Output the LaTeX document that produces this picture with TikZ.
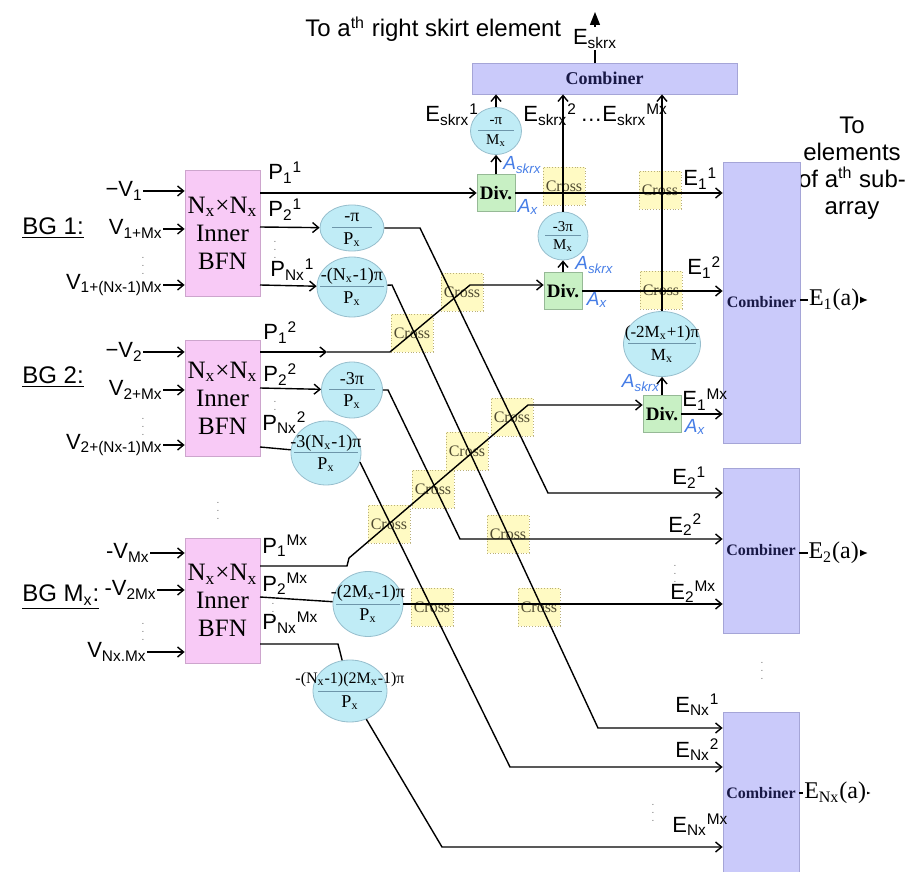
\documentclass[tikz,border=0pt]{standalone}
\usepackage{fontspec}
\setmainfont{Liberation Sans}
\newfontfamily\tnr{Liberation Serif}
\usetikzlibrary{arrows.meta,shapes.geometric}

\definecolor{bfnfill}{RGB}{248,202,246}
\definecolor{bfnline}{RGB}{205,165,205}
\definecolor{phfill}{RGB}{192,236,246}
\definecolor{phline}{RGB}{150,190,205}
\definecolor{phrule}{RGB}{110,150,170}
\definecolor{combfill}{RGB}{202,202,250}
\definecolor{combline}{RGB}{165,165,215}
\definecolor{combtext}{RGB}{25,25,70}
\definecolor{divfill}{RGB}{200,240,196}
\definecolor{divline}{RGB}{150,185,150}
\definecolor{crfill}{RGB}{255,250,195}
\definecolor{crline}{RGB}{185,175,120}
\definecolor{crtext}{RGB}{80,75,50}
\definecolor{ablue}{RGB}{70,125,230}

\begin{document}
\begin{tikzpicture}[x=0.5pt, y=-0.5pt,
    wire/.style={line width=0.7pt},
    ar/.style={wire, -{Straight Barb[length=3pt,width=5pt]}},
    lbl/.style={inner sep=0pt, font=\fontsize{11}{13}\selectfont},
    bfn/.style={draw=bfnline, fill=bfnfill, minimum width=37.5pt, align=center, inner sep=0pt, font=\tnr\fontsize{12.5}{14}\selectfont},
    comb/.style={draw=combline, fill=combfill, inner sep=0pt, text=combtext, font=\tnr\bfseries\fontsize{8}{9}\selectfont},
    divbox/.style={draw=divline, fill=divfill, minimum width=19pt, minimum height=18.5pt, inner sep=0pt, font=\tnr\bfseries\fontsize{9.5}{10}\selectfont},
    crossbox/.style={draw=crline, densely dotted, fill=crfill, minimum width=21pt, minimum height=19pt, inner sep=0pt, text=crtext, font=\tnr\fontsize{8}{9}\selectfont},
    phase/.style n args={3}{ellipse, draw=phline, fill=phfill, inner sep=0pt, minimum width=#1, minimum height=#2,
        path picture={\draw[phrule, line width=0.5pt] ([xshift=-#3]path picture bounding box.center) -- ([xshift=#3]path picture bounding box.center);}},
    num/.style={inner sep=0pt, yshift=5.5pt, font=\tnr\fontsize{9}{10}\selectfont},
    den/.style={inner sep=0pt, yshift=-5.8pt, font=\tnr\fontsize{9}{10}\selectfont},
    smallfr/.style={font=\tnr\fontsize{7.5}{8.5}\selectfont},
    blu/.style={inner sep=0pt, text=ablue, font=\itshape\fontsize{9.5}{11}\selectfont},
    dots/.style={inner sep=0pt, text=black!55, font=\tiny},
]
    \useasboundingbox (0,0) rectangle (907,872);

    % 标题文字
    \node[lbl, anchor=base west, font=\fontsize{12}{14}\selectfont] (ttl) at (305,37) {To a\textsuperscript{th} right skirt element};
    \node[align=center, inner sep=0pt, font=\fontsize{12}{13.5}\selectfont] (tosub) at (852,168) {To\\elements\\of a\textsuperscript{th} sub-\\array};

    % Cross 方块（先画，线压在上面）
    \foreach \n/\x/\y in {a/564/186, b/660/190, c/661/290, d/462/292, e/412/333, f/512/417,
                          g/467/451, h/433/489, i/389/524, j/508/534, k/432/607, l/539/607}
        \node[crossbox] (cr\n) at (\x,\y) {Cross};

    % 合成器
    \node[comb, minimum width=132.5pt, minimum height=15.5pt, font=\tnr\bfseries\fontsize{9}{10}\selectfont] (combt) at (604.5,78.5) {Combiner};
    \node[comb, minimum width=38.5pt, minimum height=140.5pt] (comb1) at (761.5,302.5) {Combiner};
    \node[comb, minimum width=38pt, minimum height=82.5pt] (comb2) at (761,550.5) {Combiner};
    \node[comb, minimum width=38pt, minimum height=81pt] (comb3) at (761,793) {Combiner};

    % 内部 BFN
    \node[bfn, minimum height=63pt] (bfn1) at (222.5,233) {N\textsubscript{x}×N\textsubscript{x}\\Inner\\BFN};
    \node[bfn, minimum height=58pt] (bfn2) at (222.5,398) {N\textsubscript{x}×N\textsubscript{x}\\Inner\\BFN};
    \node[bfn, minimum height=62.5pt] (bfn3) at (222.5,600.5) {N\textsubscript{x}×N\textsubscript{x}\\Inner\\BFN};

    % 分组标签
    \node[lbl, anchor=west, font=\fontsize{12}{14}\selectfont] (bg1) at (22,228) {\underline{BG 1:}};
    \node[lbl, anchor=west, font=\fontsize{12}{14}\selectfont] (bg2) at (22,377) {\underline{BG 2:}};
    \node[lbl, anchor=west, font=\fontsize{12}{14}\selectfont] (bgm) at (22,597) {\underline{BG M\textsubscript{x}:}};

    % 输入 V
    \node[lbl, anchor=east] (v11) at (143,191) {−V\textsubscript{1}};
    \node[lbl, anchor=east] (v12) at (163,229) {V\textsubscript{1+Mx}};
    \node[lbl, anchor=east] (v1n) at (163,285) {V\textsubscript{1+(Nx-1)Mx}};
    \node[lbl, anchor=east] (v21) at (143,352) {−V\textsubscript{2}};
    \node[lbl, anchor=east] (v22) at (163,390) {V\textsubscript{2+Mx}};
    \node[lbl, anchor=east] (v2n) at (163,445) {V\textsubscript{2+(Nx-1)Mx}};
    \node[lbl, anchor=east] (vm1) at (150,553) {-V\textsubscript{Mx}};
    \node[lbl, anchor=east] (vm2) at (157,590) {-V\textsubscript{2Mx}};
    \node[lbl, anchor=east] (vmn) at (147,652) {V\textsubscript{Nx.Mx}};
    \foreach \v/\b in {v11/bfn1, v12/bfn1, v1n/bfn1, v21/bfn2, v22/bfn2, v2n/bfn2, vm1/bfn3, vm2/bfn3, vmn/bfn3}
        \draw[ar] (\v) -- (\v -| \b.west);

    % 省略号
    \node[dots] (d1) at (143,260) {$\vdots$};
    \node[dots] (d2) at (143,421) {$\vdots$};
    \node[dots] (d3) at (143,626) {$\vdots$};
    \node[dots] (d4) at (275,244) {$\vdots$};
    \node[dots] (d5) at (275,404) {$\vdots$};
    \node[dots] (d6) at (273,606) {$\vdots$};
    \node[dots] (d7) at (218,505) {$\vdots$};
    \node[dots] (d8) at (762,665) {$\vdots$};
    \node[dots] (d9) at (675,568) {$\vdots$};
    \node[dots] (d10) at (653,807) {$\vdots$};

    % 输出 P 标签
    \node[lbl, anchor=base west] (lp11) at (268,180) {P\textsubscript{1}\textsuperscript{1}};
    \node[lbl, anchor=base west] (lp21) at (268,217) {P\textsubscript{2}\textsuperscript{1}};
    \node[lbl, anchor=base west] (lpn1) at (270,277) {P\textsubscript{Nx}\textsuperscript{1}};
    \node[lbl, anchor=base west] (lp12) at (263,340) {P\textsubscript{1}\textsuperscript{2}};
    \node[lbl, anchor=base west] (lp22) at (263,382) {P\textsubscript{2}\textsuperscript{2}};
    \node[lbl, anchor=base west] (lpn2) at (262,430) {P\textsubscript{Nx}\textsuperscript{2}};
    \node[lbl, anchor=base west] (lp1m) at (262,553) {P\textsubscript{1}\textsuperscript{Mx}};
    \node[lbl, anchor=base west] (lp2m) at (262,591) {P\textsubscript{2}\textsuperscript{Mx}};
    \node[lbl, anchor=base west] (lpnm) at (262,630) {P\textsubscript{Nx}\textsuperscript{Mx}};

    % 相移圆
    \node[phase={32pt}{23pt}{10pt}, label={[num]center:-π}, label={[den]center:P\textsubscript{x}}] (ph1) at (352,228) {};
    \node[phase={35pt}{30pt}{16pt}, label={[num]center:-(N\textsubscript{x}-1)π}, label={[den]center:P\textsubscript{x}}] (ph2) at (352,287) {};
    \node[phase={30.5pt}{28pt}{11.5pt}, label={[num]center:-3π}, label={[den]center:P\textsubscript{x}}] (ph3) at (352,390) {};
    \node[phase={35pt}{32pt}{16pt}, label={[num, yshift=-0.5pt]center:-3(N\textsubscript{x}-1)π}, label={[den]center:P\textsubscript{x}}] (ph4) at (326,453) {};
    \node[phase={35pt}{32.5pt}{16pt}, label={[num]center:-(2M\textsubscript{x}-1)π}, label={[den]center:P\textsubscript{x}}] (ph5) at (368,604) {};
    \node[phase={37pt}{31pt}{16pt}, label={[num, font=\tnr\fontsize{8}{9}\selectfont]center:-(N\textsubscript{x}-1)(2M\textsubscript{x}-1)π}, label={[den]center:P\textsubscript{x}}] (ph6) at (350,691) {};
    \node[phase={25.5pt}{23.5pt}{9pt}, label={[num, smallfr, yshift=-0.6pt]center:-π}, label={[den, smallfr, yshift=0.8pt]center:M\textsubscript{x}}] (mx1) at (496,131) {};
    \node[phase={25pt}{24pt}{9pt}, label={[num, smallfr, yshift=-0.6pt]center:-3π}, label={[den, smallfr, yshift=0.8pt]center:M\textsubscript{x}}] (mx2) at (563,236) {};
    \node[phase={38.5pt}{32.5pt}{17pt}, label={[num, font=\tnr\fontsize{8.5}{9.5}\selectfont]center:(-2M\textsubscript{x}+1)π}, label={[den, font=\tnr\fontsize{8.5}{9.5}\selectfont]center:M\textsubscript{x}}] (mx3) at (662,344) {};

    % 功分器
    \node[divbox] (div1) at (496,193) {Div.};
    \node[divbox] (div2) at (563,291) {Div.};
    \node[divbox] (div3) at (662,414) {Div.};

    % 端口与拐点
    \coordinate (p11) at (260,193);
    \coordinate (p21) at (260,227);
    \coordinate (pn1) at (260,285);
    \coordinate (p12) at (260,352);
    \coordinate (p22) at (260,388);
    \coordinate (pn2) at (260,447);
    \coordinate (p1m) at (260,566);
    \coordinate (p2m) at (260,597);
    \coordinate (pnm) at (260,644);
    \coordinate (b21a) at (420,228);
    \coordinate (b21b) at (548,493);
    \coordinate (bn1a) at (392,285);
    \coordinate (bn1b) at (598,728);
    \coordinate (a12) at (327,352);
    \coordinate (b12a) at (390,352);
    \coordinate (b12b) at (470,285);
    \coordinate (b22a) at (388,390);
    \coordinate (b22b) at (460,539);
    \coordinate (bn2b) at (510,767);
    \coordinate (b1ma) at (347,566);
    \coordinate (b1mb) at (349,558);
    \coordinate (b1mc) at (528,405);
    \coordinate (bnma) at (338,644);
    \coordinate (bnmb) at (442,847);

    % BG 1 连线
    \draw[ar] (p11) -- (div1);
    \draw[ar] (p21) -- (ph1);
    \draw[ar] (ph1) -- (b21a) -- (b21b) -- (b21b -| comb2.west);
    \draw[ar] (pn1) -- (ph2);
    \draw[ar] (ph2) -- (bn1a) -- (bn1b) -- (bn1b -| comb3.west);

    % BG 2 连线
    \draw[ar] (p12) -- (a12);
    \draw[ar] (a12) -- (b12a) -- (b12b) -- (b12b -| div2.west);
    \draw[ar] (p22) -- (ph3);
    \draw[ar] (ph3) -- (b22a) -- (b22b) -- (b22b -| comb2.west);
    \draw[wire] (pn2) -- (ph4);
    \draw[ar] (ph4.-15) -- (bn2b) -- (bn2b -| comb3.west);

    % BG Mx 连线
    \draw[ar] (p1m) -- (b1ma) -- (b1mb) -- (b1mc) -- (b1mc -| div3.west);
    \draw[wire] (p2m) -- (ph5);
    \draw[ar] (ph5) -- (ph5 -| comb2.west);
    \draw[wire] (pnm) -- (bnma) -- (ph6);
    \draw[ar] (ph6.-60) -- (bnmb) -- (bnmb -| comb3.west);

    % 功分器输出
    \draw[ar] (div1) -- (div1 -| comb1.west);
    \draw[ar] (div2) -- (div2 -| comb1.west);
    \draw[ar] (div3) -- (div3 -| comb1.west);
    \draw[ar] (div1) -- (mx1);
    \draw[ar] (mx1) -- (mx1 |- combt.south);
    \draw[ar] (div2) -- (mx2);
    \draw[ar] (mx2) -- (mx2 |- combt.south);
    \draw[ar] (div3) -- (mx3);
    \draw[ar] (mx3) -- (mx3 |- combt.south);

    % 蓝色幅度标注
    \node[blu, anchor=west] (as1) at (503,165) {A\textsubscript{skrx}};
    \node[blu] (ax1) at (528,207) {A\textsubscript{x}};
    \node[blu, anchor=west] (as2) at (575,265) {A\textsubscript{skrx}};
    \node[blu] (ax2) at (597,300) {A\textsubscript{x}};
    \node[blu] (as3) at (641,383) {A\textsubscript{skrx}};
    \node[blu] (ax3) at (695,427) {A\textsubscript{x}};

    % E 标签
    \node[lbl, anchor=base west] (ls1) at (425,122) {E\textsubscript{skrx}\textsuperscript{1}};
    \node[lbl, anchor=base west] (ls2) at (523,122) {E\textsubscript{skrx}\textsuperscript{2}};
    \node[lbl, anchor=base west] (lsm) at (580,122) {…E\textsubscript{skrx}\textsuperscript{Mx}};
    \node[lbl, anchor=base west] (le11) at (683,186) {E\textsubscript{1}\textsuperscript{1}};
    \node[lbl, anchor=base west] (le12) at (687,275) {E\textsubscript{1}\textsuperscript{2}};
    \node[lbl, anchor=base west] (le1m) at (682,407) {E\textsubscript{1}\textsuperscript{Mx}};
    \node[lbl, anchor=base west] (le21) at (672,485) {E\textsubscript{2}\textsuperscript{1}};
    \node[lbl, anchor=base west] (le22) at (668,532) {E\textsubscript{2}\textsuperscript{2}};
    \node[lbl, anchor=base west] (le2m) at (670,599) {E\textsubscript{2}\textsuperscript{Mx}};
    \node[lbl, anchor=base west] (len1) at (675,712) {E\textsubscript{Nx}\textsuperscript{1}};
    \node[lbl, anchor=base west] (len2) at (675,757) {E\textsubscript{Nx}\textsuperscript{2}};
    \node[lbl, anchor=base west] (lenm) at (672,832) {E\textsubscript{Nx}\textsuperscript{Mx}};

    % 合成器输出
    \coordinate (sk) at (595,12);
    \draw[wire, -{Triangle[length=6.5pt,width=5pt]}] (sk |- combt.north) -- (sk)
        node[pos=0.47, fill=white, inner sep=1pt, font=\fontsize{11}{13}\selectfont] {E\textsubscript{skrx}};
    \coordinate (o1) at (868,300);
    \coordinate (o2) at (868,553);
    \coordinate (o3) at (871,793);
    \draw[wire, -{Latex[length=4pt,width=3.5pt]}] (comb1.east |- o1) -- (o1)
        node[midway, fill=white, inner sep=0.5pt, font=\tnr\fontsize{12}{14}\selectfont] {E\textsubscript{1}(a)};
    \draw[wire, -{Latex[length=4pt,width=3.5pt]}] (comb2.east |- o2) -- (o2)
        node[midway, fill=white, inner sep=0.5pt, font=\tnr\fontsize{12}{14}\selectfont] {E\textsubscript{2}(a)};
    \draw[wire, -{Latex[length=4pt,width=3.5pt]}] (comb3.east |- o3) -- (o3)
        node[midway, fill=white, inner sep=0.5pt, font=\tnr\fontsize{12}{14}\selectfont] {E\textsubscript{Nx}(a)};
\end{tikzpicture}
\end{document}
